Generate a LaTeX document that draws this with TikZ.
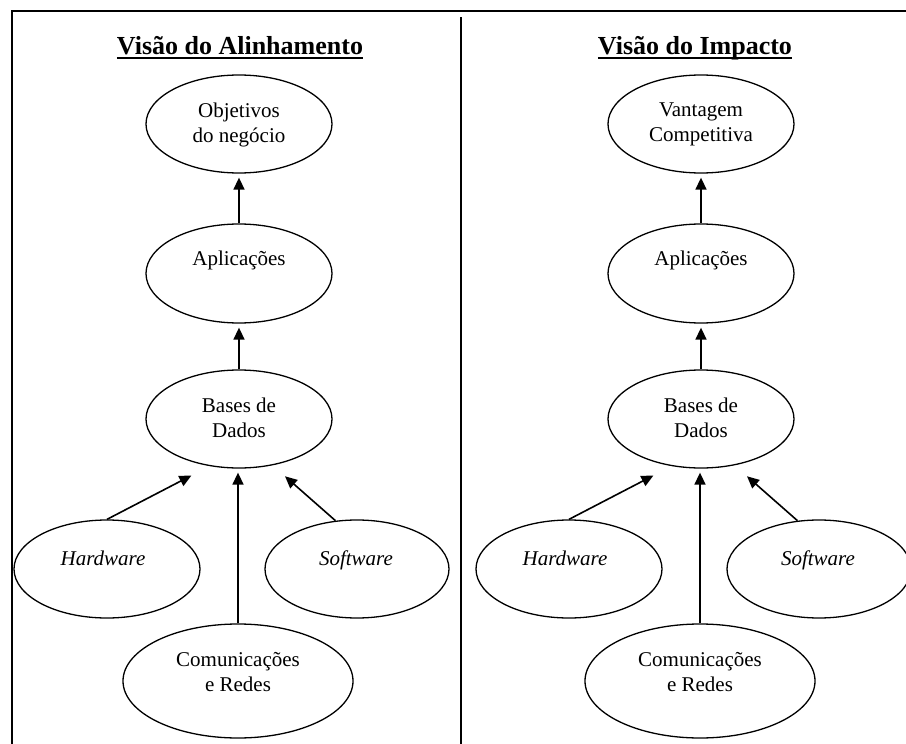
\documentclass[tikz,border=0pt]{standalone}
\usepackage{fontspec}
\setmainfont{Liberation Serif}
\usetikzlibrary{arrows.meta,calc,shapes.geometric}

% One column of the figure: #1 name prefix, #2 horizontal offset, #3 top goal
\newcommand\diagpanel[3]{%
  \node[oval, minimum width=186pt, minimum height=98pt] (#1-top) at ({#2+239},124) {};
  \node[lbl] (#1-top-t) at ({#2+239},124.6) {#3};
  \node[oval, minimum width=186pt, minimum height=99pt] (#1-app) at ({#2+239},273.5) {};
  \node[lbl] (#1-app-t) at ({#2+239},260.2) {Aplicações};
  \node[oval, minimum width=186pt, minimum height=98pt] (#1-bd) at ({#2+239},419) {};
  \node[lbl] (#1-bd-t) at ({#2+239},417.5) {Bases de\\Dados};
  \node[oval, minimum width=186pt, minimum height=98pt] (#1-hw) at ({#2+107},569) {};
  \node[lbl] (#1-hw-t) at ({#2+103},558) {\itshape Hardware};
  \node[oval, minimum width=184pt, minimum height=98pt] (#1-sw) at ({#2+357},569) {};
  \node[lbl] (#1-sw-t) at ({#2+356},560) {\itshape Software};
  \node[oval, minimum width=230pt, minimum height=114pt] (#1-com) at ({#2+238},681) {};
  \node[lbl] (#1-com-t) at ({#2+238},672.4) {Comunicações\\e Redes};
  \draw[arr] (#1-app.north) -- (#1-top.south);
  \draw[arr] (#1-bd.north) -- (#1-app.south);
  \draw[arr] (#1-hw.north) -- ($(#1-bd.south)+(-44,5)$);
  \draw[arr] (#1-sw.114) -- ($(#1-bd.south)+(43,5)$);
  \draw[arr] (#1-com.north) -- (#1-com.north |- #1-bd.south);
}

\begin{document}
\begin{tikzpicture}[x=1pt,y=-1pt,
  oval/.style={draw, ellipse, line width=1.3pt, inner sep=0pt},
  lbl/.style={inner sep=0pt, align=center, font=\fontsize{21}{25}\selectfont},
  ttl/.style={inner sep=0pt, anchor=base, font=\fontsize{26}{30}\selectfont\bfseries},
  uline/.style={line width=1.5pt},
  frame/.style={line width=1.8pt},
  arr/.style={line width=1.6pt, shorten >=4pt,
    -{Triangle[length=12pt,width=11pt]}}]
\useasboundingbox (0,0) rectangle (906,744);

% outer frame and column divider
\draw[frame] (12,744) -- (12,11) -- (906,11);
\draw[frame] (461,17) -- (461,744);

% column titles, underlined
\node[ttl] (t-left) at (240,54) {Visão do Alinhamento};
\draw[uline] ($(t-left.base west)+(0,4)$) -- ($(t-left.base east)+(0,4)$);
\node[ttl] (t-right) at (695,54) {Visão do Impacto};
\draw[uline] ($(t-right.base west)+(0,4)$) -- ($(t-right.base east)+(0,4)$);

\diagpanel{L}{0}{Objetivos\\do negócio}
\diagpanel{R}{462}{Vantagem\\Competitiva}
\end{tikzpicture}
\end{document}
